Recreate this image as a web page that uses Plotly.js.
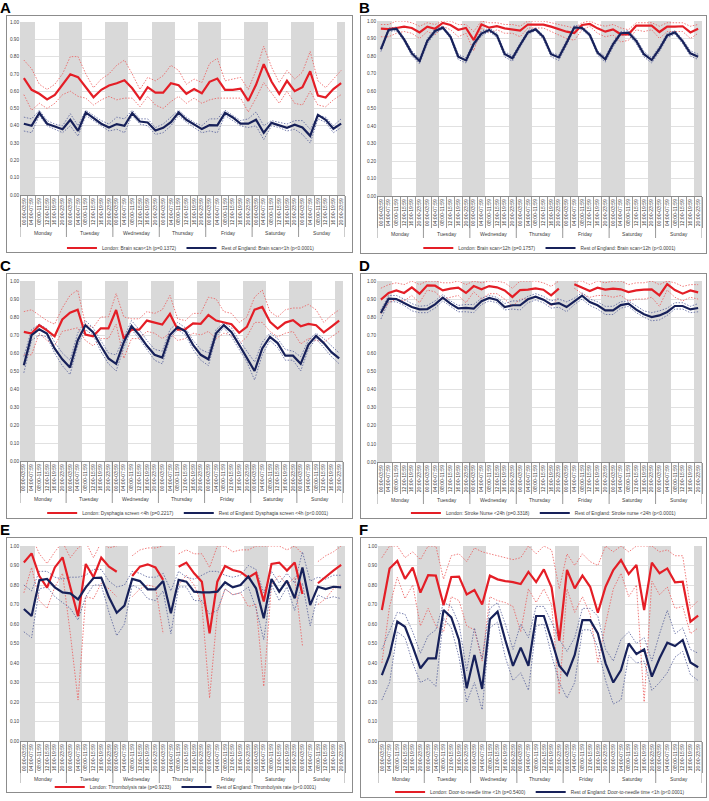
<!DOCTYPE html>
<html><head><meta charset="utf-8">
<script src="https://cdn.plot.ly/plotly-3.0.1.min.js"></script>
<style>
body{margin:0;width:709px;height:801px;background:#fff;position:relative;overflow:hidden;font-family:"Liberation Sans",Arial,sans-serif}
.chart{position:absolute}
.box{position:absolute;border:1px solid #8c8c8c;box-sizing:border-box;pointer-events:none}
.lbl{position:absolute;font-weight:bold;font-size:15px;line-height:1;color:#000}
</style></head><body>
<script>
// ---------- categories ----------
const days = ["Monday","Tuesday","Wednesday","Thursday","Friday","Saturday","Sunday"];
const times = ["00:00-03:59","04:00-07:59","08:00-11:59","12:00-15:59","16:00-19:59","20:00-23:59"];
const nightSlots = ["20:00-23:59","00:00-03:59","04:00-07:59"];
const yTicks = [0,0.1,0.2,0.3,0.4,0.5,0.6,0.7,0.8,0.9,1.0];

// ---------- A: Brain scan <1h ----------
const A_lon   = [0.675,0.608,0.585,0.552,0.579,0.64,0.698,0.681,0.621,0.565,0.608,0.633,0.646,0.663,0.617,0.554,0.623,0.592,0.592,0.646,0.635,0.585,0.612,0.588,0.654,0.673,0.608,0.608,0.615,0.544,0.637,0.756,0.656,0.585,0.66,0.6,0.623,0.715,0.575,0.563,0.612,0.646];
const A_lonHi = [0.78,0.73,0.64,0.61,0.64,0.70,0.80,0.80,0.70,0.62,0.67,0.70,0.75,0.78,0.70,0.61,0.68,0.66,0.69,0.75,0.72,0.64,0.67,0.65,0.76,0.79,0.66,0.67,0.68,0.61,0.72,0.86,0.74,0.65,0.72,0.67,0.71,0.83,0.66,0.62,0.67,0.72];
const A_lonLo = [0.58,0.49,0.53,0.50,0.53,0.58,0.60,0.57,0.56,0.52,0.55,0.57,0.55,0.56,0.56,0.51,0.57,0.52,0.50,0.54,0.57,0.53,0.56,0.53,0.55,0.56,0.56,0.56,0.56,0.48,0.56,0.65,0.59,0.53,0.60,0.53,0.52,0.60,0.52,0.51,0.55,0.58];
const A_roe   = [0.412,0.40,0.475,0.412,0.396,0.38,0.435,0.371,0.477,0.446,0.412,0.39,0.41,0.40,0.473,0.425,0.419,0.373,0.388,0.421,0.477,0.435,0.408,0.381,0.404,0.402,0.475,0.448,0.412,0.412,0.435,0.36,0.417,0.404,0.388,0.406,0.39,0.342,0.463,0.435,0.383,0.413];
const A_roeHi = [0.45,0.44,0.49,0.43,0.41,0.40,0.47,0.40,0.49,0.46,0.43,0.41,0.45,0.44,0.49,0.44,0.44,0.39,0.41,0.45,0.49,0.45,0.42,0.40,0.44,0.44,0.49,0.46,0.43,0.44,0.48,0.40,0.43,0.42,0.41,0.43,0.43,0.38,0.46,0.45,0.40,0.44];
const A_roeLo = [0.37,0.36,0.46,0.40,0.38,0.36,0.40,0.34,0.46,0.43,0.40,0.37,0.38,0.36,0.46,0.41,0.40,0.35,0.36,0.40,0.46,0.42,0.39,0.36,0.37,0.36,0.46,0.43,0.40,0.39,0.40,0.32,0.40,0.39,0.37,0.38,0.35,0.30,0.44,0.42,0.36,0.39];

// ---------- B: Brain scan <12h ----------
const B_lon   = [0.956,0.954,0.96,0.968,0.96,0.935,0.968,0.956,0.989,0.977,0.95,0.96,0.891,0.98,0.962,0.97,0.958,0.952,0.945,0.98,0.979,0.979,0.968,0.952,0.939,0.931,0.977,0.983,0.958,0.939,0.952,0.924,0.924,0.973,0.971,0.973,0.937,0.968,0.968,0.97,0.935,0.956];
const B_lonHi = [0.98,0.98,1.0,1.0,0.99,0.97,0.99,0.98,1.0,1.0,0.98,0.98,0.94,1.0,0.99,0.99,0.98,0.98,0.97,1.0,1.0,1.0,0.99,0.98,0.97,0.96,0.99,1.0,0.98,0.97,0.98,0.96,0.95,0.99,0.99,0.99,0.97,0.99,0.99,0.99,0.97,0.98];
const B_lonLo = [0.91,0.91,0.93,0.94,0.93,0.90,0.94,0.92,0.97,0.95,0.91,0.93,0.83,0.96,0.93,0.95,0.93,0.93,0.91,0.96,0.96,0.96,0.94,0.92,0.90,0.89,0.95,0.97,0.93,0.91,0.92,0.88,0.89,0.95,0.94,0.95,0.90,0.94,0.94,0.94,0.90,0.93];
const B_roe   = [0.838,0.949,0.956,0.895,0.815,0.771,0.886,0.943,0.962,0.91,0.796,0.775,0.869,0.928,0.949,0.918,0.811,0.787,0.863,0.935,0.952,0.909,0.81,0.792,0.876,0.964,0.96,0.92,0.819,0.781,0.867,0.93,0.933,0.886,0.81,0.777,0.84,0.918,0.935,0.884,0.815,0.796];
const B_roeHi = [0.85,0.96,0.965,0.905,0.83,0.785,0.90,0.955,0.97,0.92,0.81,0.79,0.88,0.94,0.96,0.93,0.825,0.80,0.875,0.945,0.96,0.92,0.82,0.805,0.89,0.975,0.97,0.93,0.83,0.795,0.88,0.94,0.945,0.90,0.825,0.79,0.855,0.93,0.945,0.895,0.83,0.81];
const B_roeLo = [0.825,0.94,0.945,0.885,0.80,0.755,0.87,0.93,0.955,0.90,0.78,0.76,0.855,0.915,0.94,0.905,0.795,0.77,0.85,0.925,0.945,0.895,0.795,0.775,0.86,0.955,0.95,0.91,0.805,0.765,0.85,0.92,0.92,0.87,0.795,0.76,0.825,0.905,0.925,0.87,0.80,0.78];

// ---------- C: Dysphagia screen <4h ----------
const C_lon   = [0.717,0.708,0.754,0.726,0.693,0.786,0.824,0.841,0.702,0.693,0.737,0.737,0.839,0.68,0.73,0.73,0.78,0.767,0.758,0.817,0.73,0.732,0.765,0.762,0.811,0.78,0.771,0.76,0.712,0.745,0.841,0.856,0.773,0.736,0.769,0.782,0.749,0.762,0.754,0.715,0.747,0.78];
const C_lonHi = [0.83,0.84,0.81,0.78,0.76,0.85,0.92,0.95,0.76,0.74,0.80,0.80,0.93,0.80,0.79,0.79,0.83,0.82,0.84,0.92,0.79,0.78,0.82,0.82,0.91,0.90,0.83,0.82,0.77,0.80,0.91,0.95,0.83,0.80,0.84,0.85,0.85,0.87,0.84,0.77,0.81,0.84];
const C_lonLo = [0.59,0.59,0.71,0.67,0.64,0.72,0.73,0.74,0.67,0.64,0.68,0.68,0.76,0.57,0.68,0.68,0.72,0.71,0.68,0.71,0.67,0.68,0.71,0.70,0.72,0.68,0.71,0.70,0.65,0.69,0.77,0.77,0.72,0.69,0.71,0.72,0.65,0.68,0.67,0.66,0.69,0.72];
const C_roe   = [0.532,0.699,0.732,0.708,0.625,0.565,0.52,0.67,0.754,0.715,0.64,0.57,0.54,0.66,0.75,0.70,0.64,0.59,0.575,0.70,0.745,0.72,0.645,0.59,0.565,0.71,0.755,0.715,0.645,0.575,0.50,0.625,0.69,0.655,0.585,0.585,0.54,0.645,0.695,0.655,0.605,0.57];
const C_roeHi = [0.58,0.73,0.76,0.735,0.66,0.60,0.56,0.71,0.78,0.74,0.67,0.60,0.59,0.69,0.78,0.73,0.67,0.62,0.61,0.73,0.77,0.74,0.67,0.62,0.60,0.73,0.77,0.74,0.67,0.61,0.55,0.66,0.71,0.68,0.62,0.61,0.58,0.67,0.71,0.68,0.64,0.60];
const C_roeLo = [0.49,0.67,0.70,0.69,0.60,0.53,0.48,0.64,0.73,0.70,0.61,0.54,0.50,0.63,0.73,0.68,0.62,0.56,0.54,0.68,0.73,0.70,0.62,0.56,0.53,0.69,0.74,0.69,0.62,0.55,0.45,0.59,0.67,0.63,0.56,0.56,0.50,0.62,0.68,0.63,0.58,0.54];

// ---------- D: Stroke nurse <24h ----------
const D_lon   = [0.897,0.934,0.948,0.934,0.965,0.93,0.976,0.974,0.948,0.958,0.963,0.934,0.972,0.954,0.972,0.965,0.948,0.912,0.95,0.952,0.959,0.952,0.921,0.958,null,0.982,0.965,0.945,0.963,0.952,0.958,0.954,0.939,0.948,0.952,0.954,0.921,0.983,0.95,0.93,0.948,0.937];
const D_lonHi = [0.96,0.98,0.99,0.98,1.0,0.98,1.0,1.0,0.99,0.99,1.0,0.98,1.0,0.99,1.0,1.0,0.99,0.96,1.0,1.0,1.0,0.99,0.97,1.0,null,1.0,1.0,0.98,1.0,0.99,1.0,1.0,0.98,0.99,0.99,1.0,0.98,1.0,0.99,0.97,0.98,0.98];
const D_lonLo = [0.82,0.88,0.90,0.89,0.92,0.88,0.95,0.94,0.90,0.91,0.92,0.88,0.94,0.90,0.93,0.93,0.90,0.86,0.90,0.90,0.91,0.90,0.86,0.91,null,0.96,0.93,0.91,0.92,0.92,0.91,0.92,0.89,0.90,0.90,0.91,0.86,0.95,0.91,0.89,0.91,0.90];
const D_roe   = [0.823,0.902,0.90,0.88,0.856,0.843,0.845,0.871,0.908,0.875,0.849,0.851,0.847,0.888,0.906,0.895,0.856,0.866,0.866,0.899,0.913,0.897,0.871,0.878,0.856,0.888,0.919,0.884,0.866,0.838,0.838,0.867,0.875,0.842,0.816,0.801,0.81,0.829,0.862,0.862,0.843,0.851];
const D_roeHi = [0.84,0.92,0.92,0.90,0.875,0.86,0.865,0.89,0.925,0.89,0.865,0.87,0.87,0.905,0.92,0.91,0.875,0.89,0.89,0.915,0.93,0.915,0.89,0.90,0.885,0.905,0.935,0.90,0.885,0.86,0.86,0.885,0.89,0.86,0.835,0.825,0.835,0.85,0.88,0.88,0.86,0.875];
const D_roeLo = [0.79,0.885,0.885,0.865,0.835,0.825,0.825,0.85,0.89,0.86,0.83,0.83,0.825,0.87,0.89,0.88,0.84,0.845,0.84,0.88,0.895,0.88,0.85,0.855,0.83,0.87,0.90,0.865,0.845,0.815,0.815,0.85,0.86,0.825,0.80,0.78,0.785,0.81,0.845,0.845,0.825,0.83];

// ---------- E: Thrombolysis rate ----------
const E_lon   = [0.915,0.962,0.846,0.786,0.89,0.942,0.79,0.64,0.908,0.84,0.94,0.894,0.868,null,0.846,0.894,0.906,0.89,0.826,null,0.894,0.915,0.86,0.817,0.552,0.817,0.897,0.877,0.867,0.838,0.863,0.715,0.908,0.915,0.874,0.915,0.754,null,0.809,0.843,0.874,0.903];
const E_lonHi = [1.0,1.05,0.96,0.91,0.97,1.02,0.94,0.99,1.02,0.94,1.02,0.99,1.0,null,0.95,0.98,0.99,0.99,1.0,null,0.96,0.98,0.96,0.96,0.89,1.0,1.0,0.97,0.98,0.98,1.0,1.0,1.0,1.0,0.98,1.0,0.96,null,0.92,0.95,0.97,1.0];
const E_lonLo = [0.76,0.89,0.72,0.68,0.79,0.86,0.55,0.21,0.74,0.73,0.81,0.78,0.74,null,0.74,0.78,0.80,0.79,0.55,null,0.80,0.85,0.80,0.70,0.22,0.66,0.78,0.75,0.76,0.69,0.70,0.28,0.80,0.85,0.80,0.84,0.49,null,0.70,0.73,0.78,0.80];
const E_roe   = [0.677,0.641,0.824,0.831,0.788,0.762,0.757,0.726,0.788,0.836,0.838,0.737,0.658,0.694,0.831,0.82,0.778,0.778,0.82,0.655,0.826,0.817,0.766,0.762,0.762,0.766,0.814,0.788,0.80,0.843,0.783,0.629,0.831,0.766,0.822,0.732,0.89,0.697,0.791,0.779,0.791,0.788];
const E_roeHi = [0.80,0.77,0.87,0.87,0.84,0.83,0.84,0.84,0.85,0.88,0.88,0.82,0.79,0.80,0.87,0.86,0.84,0.84,0.86,0.77,0.87,0.84,0.83,0.85,0.87,0.87,0.85,0.84,0.85,0.90,0.88,0.76,0.87,0.81,0.86,0.81,0.97,0.82,0.84,0.83,0.85,0.85];
const E_roeLo = [0.56,0.53,0.78,0.79,0.74,0.71,0.68,0.62,0.74,0.80,0.80,0.66,0.54,0.60,0.80,0.78,0.73,0.72,0.77,0.55,0.79,0.79,0.72,0.72,0.65,0.67,0.78,0.75,0.76,0.79,0.68,0.52,0.80,0.72,0.79,0.67,0.81,0.59,0.75,0.73,0.74,0.73];

// ---------- F: Door-to-needle time <1h ----------
const F_lon   = [0.672,0.885,0.923,0.832,0.889,0.761,0.85,0.848,0.697,0.841,0.843,0.752,0.774,0.70,0.848,0.829,0.82,0.815,0.805,0.867,0.815,0.88,0.788,0.515,0.877,0.783,0.848,0.791,0.658,0.791,0.877,0.928,0.856,0.903,0.672,0.915,0.86,0.885,0.814,0.817,0.612,0.643];
const F_lonHi = [0.94,1.0,1.0,0.94,0.97,0.93,1.0,1.0,0.83,0.95,0.96,0.92,0.99,0.97,0.96,0.95,0.94,0.93,0.94,1.0,0.96,1.0,0.98,0.78,0.96,0.90,0.96,0.92,0.90,1.0,0.97,1.0,0.97,1.0,1.0,1.0,0.97,0.98,0.95,0.95,0.68,0.72];
const F_lonLo = [0.40,0.69,0.84,0.73,0.80,0.59,0.68,0.59,0.56,0.74,0.72,0.59,0.57,0.41,0.74,0.72,0.71,0.69,0.56,0.78,0.71,0.78,0.70,0.24,0.78,0.66,0.74,0.65,0.40,0.60,0.78,0.86,0.74,0.80,0.20,0.82,0.75,0.79,0.68,0.69,0.55,0.58];
const F_roe   = [0.338,0.441,0.612,0.586,0.484,0.373,0.424,0.424,0.672,0.634,0.518,0.27,0.441,0.267,0.624,0.663,0.518,0.385,0.479,0.386,0.641,0.641,0.518,0.386,0.338,0.441,0.62,0.62,0.552,0.398,0.30,0.364,0.50,0.446,0.47,0.33,0.424,0.504,0.487,0.518,0.403,0.378];
const F_roeHi = [0.47,0.57,0.66,0.65,0.56,0.45,0.54,0.57,0.71,0.69,0.60,0.36,0.58,0.42,0.68,0.71,0.60,0.47,0.60,0.53,0.69,0.69,0.61,0.52,0.46,0.53,0.68,0.68,0.64,0.47,0.41,0.52,0.56,0.50,0.53,0.41,0.55,0.67,0.55,0.58,0.47,0.45];
const F_roeLo = [0.21,0.30,0.56,0.53,0.40,0.30,0.32,0.28,0.63,0.58,0.43,0.20,0.30,0.16,0.58,0.61,0.43,0.31,0.35,0.26,0.59,0.60,0.44,0.30,0.22,0.30,0.57,0.57,0.48,0.31,0.19,0.21,0.44,0.40,0.41,0.26,0.30,0.35,0.43,0.46,0.34,0.31];

// ---------- legend texts ----------
const legendA = ["London: Brain scan&lt;1h (p=0.1372)", "Rest of England: Brain scan&lt;1h (p&lt;0.0001)"];
const legendB = ["London: Brain scan&lt;12h (p=0.1757)", "Rest of England: Brain scan&lt;12h (p&lt;0.0001)"];
const legendC = ["London: Dysphagia screen &lt;4h (p=0.2217)", "Rest of England: Dysphagia screen &lt;4h (p&lt;0.0001)"];
const legendD = ["London: Stroke Nurse &lt;24h (p=0.3318)", "Rest of England: Stroke nurse &lt;24h (p&lt;0.0001)"];
const legendE = ["London: Thrombolysis rate (p=0.9233)", "Rest of England: Thrombolysis rate (p&lt;0.0001)"];
const legendF = ["London: Door-to-needle time &lt;1h (p=0.5400)", "Rest of England: Door-to-needle time &lt;1h (p&lt;0.0001)"];

// ---------- drawing ----------
const FONT = '"Liberation Sans", Arial, sans-serif';
const RED = '#e41e26', NAVY = '#17215a', RED_CI = '#ec5a5a', NAVY_CI = '#55609a';
const GREY_BAND = '#d9d9d9';

const idx = [], tickText = [], shade = [];
days.forEach((d, di) => times.forEach((t, ti) => {
  idx.push(di * times.length + ti);
  tickText.push(t);
  shade.push(nightSlots.includes(t) ? 1 : 0);
}));
const bounds = [];
for (let k = 0; k <= idx.length; k++) bounds.push(k - 0.5);

function addDiv(cls, L, T, W, H) {
  const d = document.createElement('div');
  d.className = cls;
  d.style.left = L + 'px'; d.style.top = T + 'px';
  if (W) { d.style.width = W + 'px'; d.style.height = H + 'px'; }
  document.body.appendChild(d);
  return d;
}

function panel(p) {
  const lbl = addDiv('lbl', p.lx, p.ly);
  lbl.textContent = p.letter;
  const div = addDiv('chart', p.L, p.T, p.W, p.H);
  addDiv('box', p.L, p.T, p.W, p.H);
  const plotH = p.pb - p.pt;
  const ciDash = '1.5px,1.5px';
  const traces = [
    {type: 'bar', x: idx, y: shade, width: 1, marker: {color: GREY_BAND, line: {width: 0}},
     hoverinfo: 'skip', showlegend: false},
    {type: 'scatter', mode: 'lines', x: idx, y: p.lonHi, line: {color: RED_CI, width: 0.8, dash: ciDash}, showlegend: false, connectgaps: false},
    {type: 'scatter', mode: 'lines', x: idx, y: p.lonLo, line: {color: RED_CI, width: 0.8, dash: ciDash}, showlegend: false, connectgaps: false},
    {type: 'scatter', mode: 'lines', x: idx, y: p.roeHi, line: {color: NAVY_CI, width: 0.8, dash: ciDash}, showlegend: false, connectgaps: false},
    {type: 'scatter', mode: 'lines', x: idx, y: p.roeLo, line: {color: NAVY_CI, width: 0.8, dash: ciDash}, showlegend: false, connectgaps: false},
    {type: 'scatter', mode: 'lines', x: idx, y: p.lon, name: p.legend[0], line: {color: RED, width: 2.2}, connectgaps: false},
    {type: 'scatter', mode: 'lines', x: idx, y: p.roe, name: p.legend[1], line: {color: NAVY, width: 2.2}, connectgaps: false}
  ];
  const annotations = days.map((d, di) => ({
    text: d, x: di * times.length + (times.length - 1) / 2, xref: 'x',
    y: 0, yref: 'paper', yanchor: 'middle', yshift: -p.dayOff, showarrow: false,
    font: {size: 5.1, color: '#404040', family: FONT}
  }));
  const shapes = [];
  for (let di = 0; di <= days.length; di++) {
    shapes.push({type: 'line', xref: 'x', yref: 'paper', x0: di * times.length - 0.5, x1: di * times.length - 0.5,
      y0: 0, y1: -p.divLen / plotH, line: {color: '#7f7f7f', width: 0.8}});
  }
  const layout = {
    width: p.W, height: p.H,
    margin: {l: p.pl - p.L, r: p.L + p.W - p.pr, t: p.pt - p.T, b: p.T + p.H - p.pb, pad: 0},
    paper_bgcolor: 'rgba(0,0,0,0)', plot_bgcolor: '#ffffff',
    font: {family: FONT, size: 5.5, color: '#404040'},
    bargap: 0, showlegend: true, hovermode: false,
    legend: {orientation: 'h', x: p.legX, xanchor: 'center', xref: 'container',
      y: 1 - (p.legY - p.T) / p.H, yref: 'container', yanchor: 'middle',
      font: {size: 4.8, color: '#404040'}, bgcolor: 'rgba(0,0,0,0)', itemwidth: 30, tracegroupgap: 0},
    xaxis: {type: 'linear', range: [-0.5, idx.length - 0.5], tickmode: 'array', tickvals: idx, ticktext: tickText,
      tickangle: -90, tickfont: {size: 5.1, color: '#404040'}, ticks: '', showgrid: false, zeroline: false,
      showline: true, linecolor: '#8c8c8c', linewidth: 1, fixedrange: true,
      minor: {tickmode: 'array', tickvals: bounds, ticks: 'outside', ticklen: p.tickLen, tickcolor: '#7f7f7f', tickwidth: 0.8, showgrid: false}},
    yaxis: {range: [0, 1], tickmode: 'array', tickvals: yTicks, tickformat: '.2f', ticks: '', showgrid: true,
      gridcolor: '#d9d9d9', gridwidth: 0.8, zeroline: false, showline: false,
      tickfont: {size: 4.7, color: '#404040'}, fixedrange: true},
    annotations: annotations, shapes: shapes
  };
  Plotly.newPlot(div, traces, layout, {staticPlot: true, displayModeBar: false});
}

const common = {dayOff: 38, divLen: 42, tickLen: 31};
panel(Object.assign({}, common, {letter: 'A', lx: 0, ly: 0, L: 6, T: 15, W: 347, H: 238, pl: 20, pr: 345, pt: 22, pb: 195, legY: 248, legX: 0.533,
  lon: A_lon, lonHi: A_lonHi, lonLo: A_lonLo, roe: A_roe, roeHi: A_roeHi, roeLo: A_roeLo, legend: legendA}));
panel(Object.assign({}, common, {letter: 'B', lx: 359, ly: 0, L: 360, T: 15, W: 347, H: 239, pl: 377, pr: 702, pt: 21, pb: 196, legY: 248, legX: 0.547,
  lon: B_lon, lonHi: B_lonHi, lonLo: B_lonLo, roe: B_roe, roeHi: B_roeHi, roeLo: B_roeLo, legend: legendB}));
panel(Object.assign({}, common, {letter: 'C', lx: 0, ly: 258, L: 6, T: 273, W: 347, H: 246, pl: 20, pr: 343, pt: 281, pb: 461, legY: 513, legX: 0.525,
  lon: C_lon, lonHi: C_lonHi, lonLo: C_lonLo, roe: C_roe, roeHi: C_roeHi, roeLo: C_roeLo, legend: legendC}));
panel(Object.assign({}, common, {letter: 'D', lx: 359, ly: 258, L: 360, T: 273, W: 347, H: 246, pl: 377, pr: 702, pt: 281, pb: 462, legY: 513, legX: 0.53,
  lon: D_lon, lonHi: D_lonHi, lonLo: D_lonLo, roe: D_roe, roeHi: D_roeHi, roeLo: D_roeLo, legend: legendD}));
panel(Object.assign({}, common, {letter: 'E', lx: 0, ly: 522, L: 6, T: 537, W: 347, H: 256, pl: 20, pr: 345, pt: 546, pb: 741, legY: 787, legX: 0.518,
  lon: E_lon, lonHi: E_lonHi, lonLo: E_lonLo, roe: E_roe, roeHi: E_roeHi, roeLo: E_roeLo, legend: legendE}));
panel(Object.assign({}, common, {letter: 'F', lx: 359, ly: 522, L: 360, T: 537, W: 347, H: 261, pl: 378, pr: 702, pt: 546, pb: 741, legY: 792, legX: 0.519,
  lon: F_lon, lonHi: F_lonHi, lonLo: F_lonLo, roe: F_roe, roeHi: F_roeHi, roeLo: F_roeLo, legend: legendF}));
</script>
</body></html>
